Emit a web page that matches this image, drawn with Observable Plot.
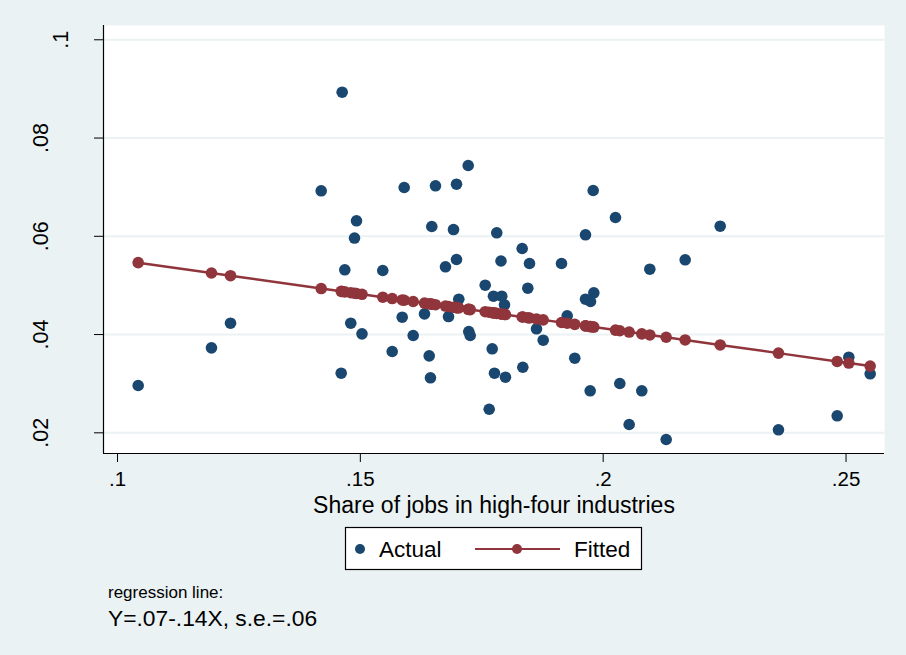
<!DOCTYPE html>
<html><head><meta charset="utf-8">
<script src="https://cdn.jsdelivr.net/npm/d3@7"></script>
<script src="https://cdn.jsdelivr.net/npm/@observablehq/plot@0.6"></script>
<style>
html,body{margin:0;padding:0;background:#fff;}
#wrap{position:relative;width:906px;height:655px;background:#EAF2F3;overflow:hidden;font-family:"Liberation Sans",Arial,sans-serif;}
#wrap svg{position:absolute;left:0;top:0;}
</style></head><body><div id="wrap"></div>
<script>
const actualX = [0.10426,0.11935,0.12327,0.14194,0.14606,0.14626,0.14680,0.14803,0.14880,0.14921,0.15034,0.15462,0.15656,0.15862,0.15903,0.16088,0.16321,0.16418,0.16444,0.16471,0.16547,0.16753,0.16815,0.16918,0.16980,0.16980,0.17027,0.17221,0.17233,0.17262,0.17571,0.17653,0.17715,0.17741,0.17762,0.17809,0.17896,0.17912,0.17968,0.17988,0.18332,0.18345,0.18448,0.18483,0.18627,0.18765,0.19142,0.19259,0.19415,0.19636,0.19636,0.19732,0.19739,0.19794,0.19807,0.20253,0.20342,0.20535,0.20795,0.20960,0.21297,0.21688,0.22409,0.23609,0.24818,0.25057,0.25497];
const actualY = [0.02963,0.03730,0.04231,0.06926,0.03213,0.08933,0.05318,0.04231,0.05965,0.06316,0.04015,0.05304,0.03655,0.04353,0.06993,0.03981,0.04422,0.03567,0.03120,0.06200,0.07028,0.05379,0.04367,0.06138,0.07061,0.05528,0.04720,0.07441,0.04062,0.03981,0.05005,0.02480,0.03710,0.04781,0.03213,0.06071,0.05497,0.04781,0.04606,0.03132,0.05752,0.03335,0.04944,0.05446,0.04117,0.03885,0.05446,0.04382,0.03519,0.06031,0.04720,0.02855,0.04673,0.06932,0.04850,0.06383,0.03004,0.02169,0.02855,0.05330,0.01864,0.05522,0.06206,0.02061,0.02346,0.03539,0.03201];
const fittedY = [0.05464,0.05253,0.05198,0.04937,0.04880,0.04877,0.04869,0.04852,0.04841,0.04836,0.04820,0.04760,0.04733,0.04704,0.04698,0.04673,0.04640,0.04626,0.04623,0.04619,0.04608,0.04580,0.04571,0.04557,0.04548,0.04548,0.04541,0.04514,0.04513,0.04508,0.04465,0.04454,0.04445,0.04442,0.04439,0.04432,0.04420,0.04418,0.04410,0.04407,0.04359,0.04357,0.04343,0.04338,0.04318,0.04299,0.04246,0.04230,0.04208,0.04177,0.04177,0.04163,0.04162,0.04155,0.04153,0.04091,0.04078,0.04051,0.04015,0.03992,0.03945,0.03890,0.03789,0.03622,0.03453,0.03420,0.03358];
const xTicks = [0.1, 0.15, 0.2, 0.25];
const xTickLabels = [".1", ".15", ".2", ".25"];
const yTicks = [0.02, 0.04, 0.06, 0.08, 0.1];
const yTickLabels = [".02", ".04", ".06", ".08", ".1"];
const xTitle = "Share of jobs in high-four industries";
const legendLabels = ["Actual", "Fitted"];
const captionLines = ["regression line:", "Y=.07-.14X, s.e.=.06"];

const FONT = '"Liberation Sans", Arial, sans-serif';
const navy = "#1A476F", maroon = "#90353B", bg = "#EAF2F3";
const rows = actualX.map((x, i) => ({x, actual: actualY[i], fitted: fittedY[i]}));
const xDomain = [0.09712, 0.25792];
const yDomain = [0.01579, 0.10291];
const fmt = (ticks, labels) => d => { const i = ticks.indexOf(d); return i < 0 ? "" : labels[i]; };

const chart = Plot.plot({
  width: 906, height: 655,
  marginLeft: 103, marginRight: 22, marginTop: 25, marginBottom: 202,
  style: {background: "transparent", fontFamily: FONT, color: "#000"},
  x: {domain: xDomain, label: null},
  y: {domain: yDomain, label: null},
  marks: [
    Plot.frame({fill: "white", stroke: null}),
    Plot.gridY(yTicks, {stroke: bg, strokeOpacity: 1, strokeWidth: 2}),
    Plot.axisX(xTicks, {tickSize: 9, tickPadding: 9, fontSize: 20.5, tickFormat: fmt(xTicks, xTickLabels)}),
    Plot.axisY(yTicks.slice(0, 4), {tickSize: 9, tickRotate: -90, tickPadding: 47, fontSize: 21.5, tickFormat: fmt(yTicks, yTickLabels)}),
    Plot.axisY(yTicks.slice(4), {tickSize: 9, tickRotate: -90, tickPadding: 27, fontSize: 21.5, tickFormat: fmt(yTicks, yTickLabels)}),
    Plot.ruleX([xDomain[0]], {stroke: "#000", strokeWidth: 1.2}),
    Plot.ruleY([yDomain[0]], {stroke: "#000", strokeWidth: 1.2}),
    Plot.dot(rows, {x: "x", y: "actual", r: 5.8, fill: navy}),
    Plot.line(rows, {x: "x", y: "fitted", stroke: maroon, strokeWidth: 2.5}),
    Plot.dot(rows, {x: "x", y: "fitted", r: 5.8, fill: maroon}),
    Plot.text([xTitle], {text: d => d, frameAnchor: "bottom", lineAnchor: "bottom", dy: 59, fontSize: 23, fill: "#000"})
  ]
});
const wrap = document.getElementById("wrap");
wrap.appendChild(chart);

const ov = d3.create("svg").attr("width", 906).attr("height", 655)
  .style("pointer-events", "none").style("font-family", FONT);
ov.append("rect").attr("x", 345.5).attr("y", 527.5).attr("width", 296).attr("height", 42)
  .attr("fill", "white").attr("stroke", "#000").attr("stroke-width", 1.2);
ov.append("circle").attr("cx", 360).attr("cy", 549).attr("r", 5).attr("fill", navy);
ov.append("text").attr("x", 379).attr("y", 556.5).attr("font-size", 22.5).attr("fill", "#000").text(legendLabels[0]);
ov.append("line").attr("x1", 475).attr("x2", 560).attr("y1", 549).attr("y2", 549).attr("stroke", maroon).attr("stroke-width", 2.2);
ov.append("circle").attr("cx", 517).attr("cy", 549).attr("r", 5).attr("fill", maroon);
ov.append("text").attr("x", 574).attr("y", 556.5).attr("font-size", 22.5).attr("fill", "#000").text(legendLabels[1]);
ov.append("text").attr("x", 108).attr("y", 597.5).attr("font-size", 17).attr("fill", "#000").text(captionLines[0]);
ov.append("text").attr("x", 108).attr("y", 626).attr("font-size", 22.8).attr("fill", "#000").text(captionLines[1]);
wrap.appendChild(ov.node());
</script></body></html>
